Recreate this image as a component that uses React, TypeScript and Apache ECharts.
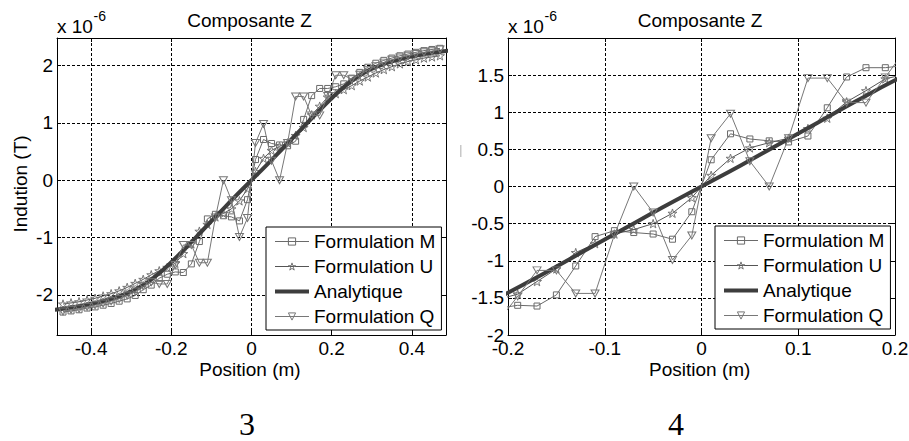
import React, { useEffect, useRef } from "react";
import * as echarts from "echarts";

// ---------- data (values in units of 1e-6 T) ----------
const POSITIONS = [
  -0.47, -0.45, -0.43, -0.41, -0.39, -0.37, -0.35, -0.33, -0.31, -0.29, -0.27, -0.25,
  -0.23, -0.21, -0.19, -0.17, -0.15, -0.13, -0.11, -0.09, -0.07, -0.05, -0.03, -0.01,
  0.01, 0.03, 0.05, 0.07, 0.09, 0.11, 0.13, 0.15, 0.17, 0.19, 0.21, 0.23,
  0.25, 0.27, 0.29, 0.31, 0.33, 0.35, 0.37, 0.39, 0.41, 0.43, 0.45, 0.47,
];
const FORMULATION_M = [
  -2.30, -2.28, -2.26, -2.23, -2.21, -2.18, -2.15, -2.11, -2.07, -2.01, -1.91, -1.83,
  -1.71, -1.64, -1.60, -1.61, -1.46, -1.07, -0.675, -0.595, -0.62, -0.64, -0.71, -0.34,
  0.36, 0.71, 0.64, 0.615, 0.60, 0.68, 1.06, 1.475, 1.60, 1.60, 1.63, 1.68,
  1.78, 1.88, 1.97, 2.04, 2.09, 2.13, 2.17, 2.20, 2.23, 2.26, 2.28, 2.30,
];
const FORMULATION_U = [
  -2.16, -2.14, -2.12, -2.09, -2.06, -2.02, -1.98, -1.93, -1.87, -1.80, -1.73, -1.65,
  -1.58, -1.52, -1.45, -1.28, -1.11, -0.89, -0.77, -0.64, -0.58, -0.50, -0.36, -0.15,
  0.15, 0.38, 0.52, 0.59, 0.65, 0.78, 0.92, 1.14, 1.29, 1.45, 1.51, 1.58,
  1.65, 1.73, 1.80, 1.87, 1.93, 1.98, 2.03, 2.07, 2.10, 2.13, 2.15, 2.17,
];
const FORMULATION_Q = [
  -2.29, -2.26, -2.24, -2.21, -2.18, -2.15, -2.11, -2.07, -2.01, -1.94, -1.85, -1.78,
  -1.81, -1.81, -1.48, -1.13, -1.13, -1.44, -1.44, -0.65, 0.0, -0.35, -0.99, -0.66,
  0.65, 0.98, 0.34, 0.0, 0.65, 1.46, 1.46, 1.13, 1.13, 1.47, 1.83, 1.83,
  1.76, 1.84, 1.92, 1.99, 2.05, 2.10, 2.14, 2.17, 2.20, 2.23, 2.25, 2.28,
];
const ANALYTIC_X = [
  -0.52, -0.48, -0.44, -0.40, -0.36, -0.32, -0.28, -0.24, -0.20, -0.16, -0.12, -0.08, -0.04,
  0, 0.04, 0.08, 0.12, 0.16, 0.20, 0.24, 0.28, 0.32, 0.36, 0.40, 0.44, 0.48, 0.52,
];
const ANALYTIQUE = [
  -2.28, -2.25, -2.21, -2.16, -2.09, -2.00, -1.87, -1.68, -1.43, -1.15, -0.86, -0.57, -0.28,
  0, 0.28, 0.57, 0.86, 1.15, 1.43, 1.68, 1.87, 2.00, 2.09, 2.16, 2.21, 2.25, 2.28,
];

const SERIES_NAMES = ["Formulation M", "Formulation U", "Analytique", "Formulation Q"];
const LEFT_X_TICKS = [-0.4, -0.2, 0, 0.2, 0.4];
const LEFT_Y_TICKS = [-2, -1, 0, 1, 2];
const RIGHT_X_TICKS = [-0.2, -0.1, 0, 0.1, 0.2];
const RIGHT_Y_TICKS = [-2, -1.5, -1, -0.5, 0, 0.5, 1, 1.5];
const TITLE = "Composante Z";
const X_NAME = "Position (m)";
const Y_NAME = "Indution (T)";
const EXP_BASE = "x 10";
const EXP_POWER = "-6";
const FIGURE_NUMBERS = ["3", "4"];

// ---------- styling ----------
const FONT = "'Liberation Sans', Arial, Helvetica, sans-serif";
const SERIF = "'Liberation Serif', 'Times New Roman', serif";
const C_M = "#6a6a6a";
const C_U = "#555555";
const C_A = "#3d3d3d";
const C_Q = "#777777";
const STAR =
  "path://M50,0 L61.17,34.63 L97.55,34.55 L68.07,55.87 L79.39,90.45 L50,69 L20.61,90.45 L31.93,55.87 L2.45,34.55 L38.83,34.63 Z";

type Panel = {
  grid: { left: number; top: number; width: number; height: number };
  xMin: number; xMax: number; yMin: number; yMax: number;
  xTicks: number[]; yTicks: number[];
  legend: { left: number; top: number };
};

const PANELS: Panel[] = [
  {
    grid: { left: 57, top: 38, width: 389, height: 297 },
    xMin: -0.485, xMax: 0.485, yMin: -2.7, yMax: 2.48,
    xTicks: LEFT_X_TICKS, yTicks: LEFT_Y_TICKS,
    legend: { left: 266, top: 227 },
  },
  {
    grid: { left: 508, top: 38, width: 387, height: 297 },
    xMin: -0.2, xMax: 0.2, yMin: -2, yMax: 2,
    xTicks: RIGHT_X_TICKS, yTicks: RIGHT_Y_TICKS,
    legend: { left: 715, top: 226 },
  },
];

const hollow = (c: string) => ({ color: "rgba(255,255,255,0)", borderColor: c, borderWidth: 1 });

function buildOption() {
  const grid: any[] = [];
  const xAxis: any[] = [];
  const yAxis: any[] = [];
  const series: any[] = [];
  const legend: any[] = [];
  const axisLine = { show: true, onZero: false, lineStyle: { color: "#000", width: 1 } };

  PANELS.forEach((p, i) => {
    grid.push({ ...p.grid, containLabel: false, outerBoundsMode: "none", show: false });
    const baseX = { type: "value", gridIndex: i, min: p.xMin, max: p.xMax, axisLine };
    const baseY = { type: "value", gridIndex: i, min: p.yMin, max: p.yMax, axisLine };
    xAxis.push({
      ...baseX,
      position: "bottom",
      axisTick: { show: true, inside: true, length: 4, customValues: p.xTicks, lineStyle: { color: "#000" } },
      axisLabel: { show: true, customValues: p.xTicks, margin: 4, color: "#000", fontSize: 19, fontFamily: FONT },
      splitLine: { show: true, lineStyle: { color: "#000", width: 1, type: [3, 2] } },
    });
    xAxis.push({
      ...baseX,
      position: "top",
      axisTick: { show: true, inside: true, length: 4, customValues: p.xTicks, lineStyle: { color: "#000" } },
      axisLabel: { show: false },
      splitLine: { show: false },
    });
    yAxis.push({
      ...baseY,
      position: "left",
      axisTick: { show: true, inside: true, length: 4, customValues: p.yTicks, lineStyle: { color: "#000" } },
      axisLabel: { show: true, customValues: p.yTicks, margin: 4, color: "#000", fontSize: 19, fontFamily: FONT },
      splitLine: { show: true, lineStyle: { color: "#000", width: 1, type: [3, 2] } },
    });
    yAxis.push({
      ...baseY,
      position: "right",
      axisTick: { show: true, inside: true, length: 4, customValues: p.yTicks, lineStyle: { color: "#000" } },
      axisLabel: { show: false },
      splitLine: { show: false },
    });

    const xi = i * 2;
    const common = {
      type: "line", xAxisIndex: xi, yAxisIndex: xi, clip: true, silent: true,
      emphasis: { disabled: true }, symbolKeepAspect: true,
    };
    series.push({
      ...common, name: SERIES_NAMES[0],
      data: POSITIONS.map((x, k) => [x, FORMULATION_M[k]]),
      symbol: "rect", symbolSize: 6,
      lineStyle: { color: C_M, width: 1 }, itemStyle: hollow(C_M), z: 2,
    });
    series.push({
      ...common, name: SERIES_NAMES[1],
      data: POSITIONS.map((x, k) => [x, FORMULATION_U[k]]),
      symbol: STAR, symbolSize: 9,
      lineStyle: { color: C_U, width: 1 }, itemStyle: hollow(C_Q), z: 3,
    });
    series.push({
      ...common, name: SERIES_NAMES[2],
      data: ANALYTIC_X.map((x, k) => [x, ANALYTIQUE[k]]),
      symbol: "none", smooth: true,
      lineStyle: { color: C_A, width: 4 }, itemStyle: { color: C_A }, z: 4,
    });
    series.push({
      ...common, name: SERIES_NAMES[3],
      data: POSITIONS.map((x, k) => [x, FORMULATION_Q[k]]),
      symbol: "triangle", symbolRotate: 180, symbolSize: [8, 7], symbolKeepAspect: false,
      lineStyle: { color: C_Q, width: 1 }, itemStyle: hollow(C_Q), z: 5,
    });

    legend.push({
      orient: "vertical",
      left: p.legend.left,
      top: p.legend.top,
      itemWidth: 34,
      itemHeight: 9,
      itemGap: 6,
      padding: [5, 6, 4, 7],
      borderColor: "#000",
      borderWidth: 1,
      borderRadius: 0,
      backgroundColor: "#fff",
      selectedMode: false,
      textStyle: { color: "#000", fontSize: 19, fontFamily: FONT },
      data: [
        { name: SERIES_NAMES[0], itemStyle: hollow(C_M), lineStyle: { color: C_M, width: 1 } },
        { name: SERIES_NAMES[1], itemStyle: hollow(C_Q), lineStyle: { color: C_U, width: 1 } },
        {
          name: SERIES_NAMES[2],
          itemStyle: { color: "rgba(0,0,0,0)", borderColor: "rgba(0,0,0,0)", borderWidth: 0, opacity: 0 },
          lineStyle: { color: C_A, width: 4 },
        },
        { name: SERIES_NAMES[3], itemStyle: hollow(C_Q), lineStyle: { color: C_Q, width: 1 } },
      ],
      z: 10,
    });
  });

  const txt = (text: string, x: number, y: number, extra: any = {}) => ({
    type: "text", x, y, silent: true, z: 20,
    style: { text, fill: "#000", fontSize: 19, fontFamily: FONT, align: "center", verticalAlign: "middle", ...extra },
  });

  const graphic: any[] = [
    txt(TITLE, 249.5, 20),
    txt(TITLE, 700, 20),
    txt(EXP_BASE, 57, 26, { align: "left" }),
    txt(EXP_POWER, 93.5, 16, { align: "left", fontSize: 14 }),
    txt(EXP_BASE, 508, 26, { align: "left" }),
    txt(EXP_POWER, 544.5, 16, { align: "left", fontSize: 14 }),
    txt(X_NAME, 250, 369.5),
    txt(X_NAME, 699.7, 369.5),
    { ...txt(Y_NAME, 20.5, 184), rotation: Math.PI / 2 },
    txt(FIGURE_NUMBERS[0], 247, 424, { fontSize: 32, lineHeight: 26, fontFamily: SERIF }),
    txt(FIGURE_NUMBERS[1], 676, 424, { fontSize: 32, lineHeight: 26, fontFamily: SERIF }),
    { type: "rect", shape: { x: 460, y: 145, width: 1.5, height: 12 }, style: { fill: "#c8c8c8" }, silent: true },
  ];

  return {
    animation: false,
    backgroundColor: "#fff",
    grid, xAxis, yAxis, series, legend, graphic,
    tooltip: { show: false },
  };
}

export default function App() {
  const ref = useRef<HTMLDivElement>(null);
  useEffect(() => {
    document.body.style.margin = "0";
    document.documentElement.style.margin = "0";
    if (!ref.current) return;
    const chart = echarts.init(ref.current, null, { renderer: "svg" });
    chart.setOption(buildOption() as any);
    return () => chart.dispose();
  }, []);
  return (
    <div
      ref={ref}
      style={{ position: "fixed", left: 0, top: 0, width: 909, height: 441, background: "#fff", margin: 0 }}
    />
  );
}
